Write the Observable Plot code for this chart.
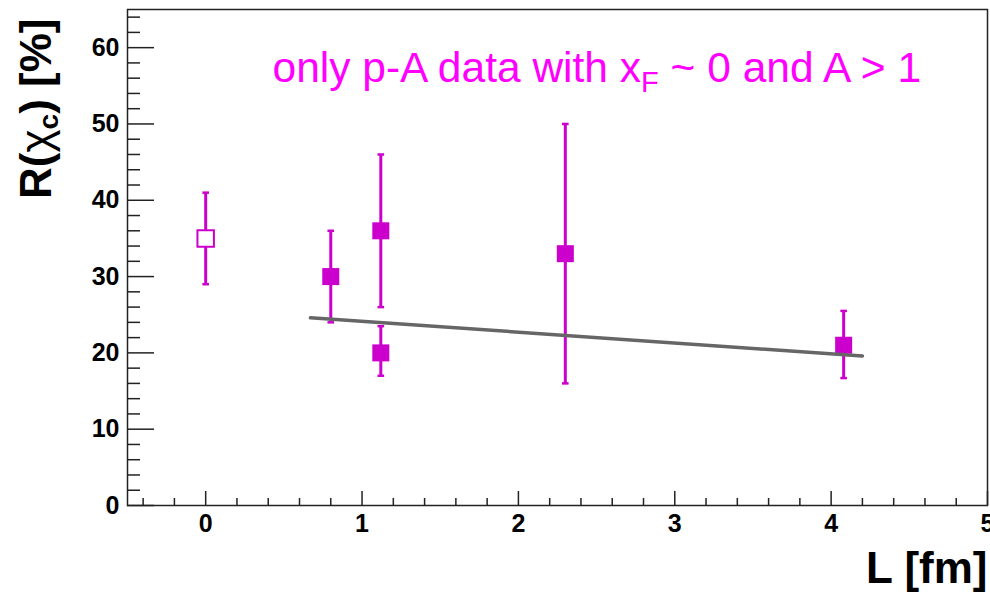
<!DOCTYPE html>
<html><head><meta charset="utf-8">
<script src="https://cdn.jsdelivr.net/npm/d3@7"></script>
<script src="https://cdn.jsdelivr.net/npm/@observablehq/plot@0.6"></script>
<style>html,body{margin:0;padding:0;background:#fff;overflow:hidden}</style>
</head><body><div id="chart"></div>
<script>
// Filled points (p-A, xF ~ 0)
const L = [0.8, 1.12, 1.12, 2.3, 4.08];
const R = [30, 36, 20, 33, 21];
const R_low = [24, 26, 17, 16, 16.7];
const R_high = [36, 46, 23.5, 50, 25.5];
// Open point
const openL = [0];
const openR = [35];
const openLow = [29];
const openHigh = [41];
// Linear fit line endpoints
const fitL = [0.67, 4.2];
const fitR = [24.6, 19.6];
// Ticks
const xMajor = [0, 1, 2, 3, 4, 5];
const yMajor = [0, 10, 20, 30, 40, 50, 60];
const xMinor = d3.range(-4, 50, 2).map(v => v / 10).filter(v => Math.abs(v - Math.round(v)) > 1e-9);
const yMinor = d3.range(2, 65, 2).filter(v => v % 10 !== 0);
// Texts
const titleParts = ["only p-A data with x", "F", " ~ 0 and A > 1"];
const yLabelParts = ["R(", "χ", "c", ") [%]"];
const xLabel = "L [fm]";

const magenta = "#cc00cc";
const pts = L.map((x, i) => ({L: x, R: R[i], lo: R_low[i], hi: R_high[i]}));
const open = openL.map((x, i) => ({L: x, R: openR[i], lo: openLow[i], hi: openHigh[i]}));
const all = open.concat(pts);
const fit = fitL.map((x, i) => ({L: x, R: fitR[i]}));
const cap = {draw(ctx) { ctx.moveTo(-3.3, 0); ctx.lineTo(3.3, 0); }};
const axisColor = "#222";
const fmt = d => String(d);

const plot = Plot.plot({
  width: 990, height: 594,
  marginLeft: 127, marginRight: 3, marginTop: 9, marginBottom: 89,
  x: {domain: [-0.5, 5]},
  y: {domain: [0, 65]},
  style: {fontFamily: "'Liberation Sans', Arial, Helvetica, sans-serif", background: "#fff", overflow: "hidden"},
  marks: [
    Plot.ruleX(all, {x: "L", y1: "lo", y2: "hi", stroke: magenta, strokeWidth: 3}),
    Plot.dot(all, {x: "L", y: "lo", symbol: cap, stroke: magenta, strokeWidth: 2.5}),
    Plot.dot(all, {x: "L", y: "hi", symbol: cap, stroke: magenta, strokeWidth: 2.5}),
    Plot.dot(pts, {x: "L", y: "R", symbol: "square", r: 9.6, fill: magenta, stroke: null}),
    Plot.dot(open, {x: "L", y: "R", symbol: "square", r: 9.3, fill: "white", stroke: magenta, strokeWidth: 2}),
    Plot.line(fit, {x: "L", y: "R", stroke: "#666", strokeWidth: 3.5}),
    // tick marks (inward)
    Plot.axisX(xMajor, {tickSize: -14, fill: "none", stroke: axisColor, strokeWidth: 1.5, label: null}),
    Plot.axisX(xMinor, {tickSize: -7, fill: "none", stroke: axisColor, strokeWidth: 1.5, label: null}),
    Plot.axisY(yMajor, {tickSize: -27, fill: "none", stroke: axisColor, strokeWidth: 1.5, label: null}),
    Plot.axisY(yMinor, {tickSize: -13, fill: "none", stroke: axisColor, strokeWidth: 1.5, label: null}),
    // tick labels
    Plot.axisX(xMajor, {tickSize: 0, tickPadding: 9, tickFormat: fmt, fontSize: 25, fontWeight: "bold", fill: "#000", label: null}),
    Plot.axisY(yMajor, {tickSize: 0, tickPadding: 8, tickFormat: fmt, fontSize: 25, fontWeight: "bold", fill: "#000", label: null}),
    Plot.frame({stroke: axisColor, strokeWidth: 1.5}),
    // title annotation
    Plot.text([titleParts.join("")], {frameAnchor: "top-left", lineAnchor: "middle", textAnchor: "start", dx: 145, dy: 58.6, fontSize: 42.5, fill: "#ff00ff"}),
    // axis titles
    Plot.text([xLabel], {frameAnchor: "bottom-right", lineAnchor: "middle", textAnchor: "end", dx: 0, dy: 63, fontSize: 44, fontWeight: "bold", fill: "#000"}),
    Plot.text([yLabelParts.join("")], {frameAnchor: "top-left", lineAnchor: "middle", textAnchor: "end", rotate: -90, dx: -91, dy: 9, fontSize: 44, fontWeight: "bold", fill: "#000"})
  ]
});

const NS = "http://www.w3.org/2000/svg";
function rich(t, parts) {
  t.textContent = "";
  parts.forEach(p => {
    const s = document.createElementNS(NS, "tspan");
    s.textContent = p.text;
    if (p.size) s.setAttribute("font-size", p.size);
    if (p.dy) s.setAttribute("dy", p.dy);
    if (p.weight) s.setAttribute("font-weight", p.weight);
    t.appendChild(s);
  });
}
plot.querySelectorAll("text").forEach(t => {
  if (t.textContent === titleParts.join("")) {
    rich(t, [
      {text: titleParts[0]},
      {text: titleParts[1], size: 29, dy: 10.6},
      {text: titleParts[2], size: 42.5, dy: -10.6}
    ]);
  } else if (t.textContent === yLabelParts.join("")) {
    rich(t, [
      {text: yLabelParts[0]},
      {text: yLabelParts[1], weight: "normal"},
      {text: yLabelParts[2], size: 28, dy: 7},
      {text: yLabelParts[3], size: 44, dy: -7}
    ]);
  }
});
document.getElementById("chart").appendChild(plot);
</script>
</body></html>
